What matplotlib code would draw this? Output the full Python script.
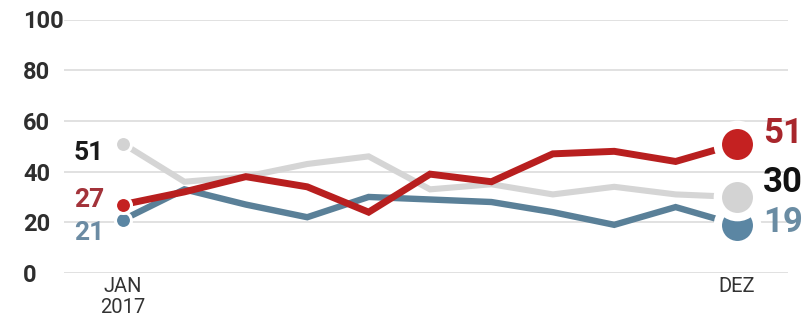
import matplotlib
matplotlib.use("Agg")
import matplotlib.pyplot as plt

# ---- data ----
months = list(range(11))          # 11 survey points, Jan 2017 .. Dez
x_tick_pos = [0, 10]
x_tick_labels = ["JAN\n2017", "DEZ"]
y_ticks = [0, 20, 40, 60, 80, 100]

red = [27, 32, 38, 34, 24, 39, 36, 47, 48, 44, 51]
blue = [21, 33, 27, 22, 30, 29, 28, 24, 19, 26, 19]
gray = [51, 36, 38, 43, 46, 33, 35, 31, 34, 31, 30]

start_labels = {"gray": "51", "red": "27", "blue": "21"}
end_labels = {"red": "51", "gray": "30", "blue": "19"}

# ---- style ----
C_RED, C_BLUE, C_GRAY = "#b81f1f", "#5a8098", "#d5d5d5"
C_RED_DOT, C_BLUE_DOT, C_GRAY_DOT = "#c42121", "#5b86a3", "#d3d3d3"
LBL = {"red": "#a3333a", "blue": "#6b8ba3", "gray": "#1a1a1a"}
FONT = "Roboto"

fig = plt.figure(figsize=(8.1, 3.2), dpi=100)
ax = fig.add_axes([64 / 810, 47 / 320, (788 - 64) / 810, (273 - 19.5) / 320])
ax.set_xlim(-0.961, 10.83)
ax.set_ylim(0, 100)

for s in ax.spines.values():
    s.set_visible(False)
ax.set_yticks(y_ticks)
ax.set_yticklabels([str(v) for v in y_ticks], ha="left", fontsize=17,
                   fontweight="semibold", color="#2e2e2e", family=FONT)
ax.tick_params(axis="y", length=0, pad=29.5)
ax.set_xticks(x_tick_pos)
ax.set_xticklabels(x_tick_labels, fontsize=14.5, color="#333333", family=FONT,
                   linespacing=1.15)
ax.tick_params(axis="x", length=0, pad=3)
ax.grid(axis="y", color="#dcdcdc", linewidth=1.2)
ax.grid(axis="x", visible=False)
ax.set_axisbelow(True)

series = [("gray", gray, C_GRAY, C_GRAY_DOT, 4.4),
          ("blue", blue, C_BLUE, C_BLUE_DOT, 4.6),
          ("red", red, C_RED, C_RED_DOT, 5.0)]

z = 3
for name, vals, lc, dc, lw in series:
    ax.plot(months, vals, color=lc, linewidth=lw, solid_joinstyle="miter",
            solid_capstyle="butt", zorder=z, clip_on=False)
    z += 1
# start dots
for name, vals, lc, dc, lw in series:
    ax.plot(months[0], vals[0], "o", ms=11.5, mfc=dc, mec="white", mew=2.2,
            zorder=10, clip_on=False)
# end dots: blue, gray, red order
end_dot = {"blue": (blue, C_BLUE_DOT), "gray": (gray, C_GRAY_DOT),
           "red": (red, C_RED_DOT)}
for name in ["blue", "gray", "red"]:
    vals, dc = end_dot[name]
    ax.plot(months[-1], vals[-1], "o", ms=28.3, mfc=dc, mec="white", mew=6.0,
            zorder=11, clip_on=False)

# start labels
start_dy = {"gray": -11.7, "red": -1.7, "blue": -14.5}
for name, vals in [("gray", gray), ("red", red), ("blue", blue)]:
    ax.annotate(start_labels[name], (months[0], vals[0]), xytext=(-13.7, start_dy[name]),
                textcoords="offset points", ha="right", va="baseline",
                fontsize=19, fontweight="bold", color=LBL[name], family=FONT,
                zorder=12, annotation_clip=False)

# end labels
end_dy = {"red": 0.5, "gray": 3.6, "blue": -5.2}
end_col = {"red": "#a8262c", "gray": "#111111", "blue": "#6a8ca3"}
for name, vals in [("red", red), ("gray", gray), ("blue", blue)]:
    ax.annotate(end_labels[name], (months[-1], vals[-1]), xytext=(18.7, end_dy[name]),
                textcoords="offset points", ha="left", va="baseline",
                fontsize=25, fontweight="bold", color=end_col[name], family=FONT,
                zorder=12, annotation_clip=False)

fig.savefig("out.png", dpi=100)
